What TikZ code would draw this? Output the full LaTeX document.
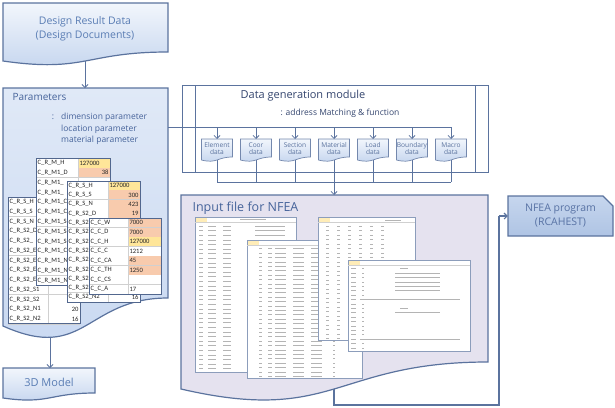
\documentclass[tikz,border=0pt]{standalone}
\usepackage{fontspec}
\setmainfont{Open Sans}
\newfontfamily\cellfont{Carlito}
\usetikzlibrary{arrows.meta}

\definecolor{lineblue}{HTML}{5B739E}
\definecolor{textblue}{HTML}{5A7DB4}
\definecolor{headblue}{HTML}{46639A}
\definecolor{darktext}{HTML}{34456E}
\definecolor{paleblue}{HTML}{F2F6FC}
\definecolor{midblue}{HTML}{C3D4EE}
\definecolor{parmtop}{HTML}{E0E9F7}
\definecolor{parmbot}{HTML}{C8D8F1}
\definecolor{lavender}{HTML}{E5E2EF}
\definecolor{progtop}{HTML}{C6D6EE}
\definecolor{progbot}{HTML}{AFC4E4}
\definecolor{cellylw}{HTML}{FFE699}
\definecolor{cellorg}{HTML}{F8CBAD}
\definecolor{gridgray}{HTML}{D0D0D0}
\definecolor{sheetgray}{HTML}{B4B4B4}

\tikzstyle{docshape}=[draw=lineblue, line width=1.2pt, top color=paleblue, bottom color=midblue]
\tikzstyle{paramshape}=[draw=lineblue, line width=1.2pt, top color=parmtop, bottom color=parmbot]
\tikzstyle{boxshape}=[draw=lineblue!85, line width=0.7pt, top color=paleblue, bottom color=midblue]
\tikzstyle{inputshape}=[draw=lineblue, line width=1.2pt, fill=lavender]
\tikzstyle{progshape}=[draw=lineblue, line width=1.2pt, top color=progtop, bottom color=progbot]
\tikzstyle{modline}=[draw=lineblue, line width=1pt]
\tikzstyle{arrow}=[draw=lineblue, line width=0.8pt, -{Straight Barb[length=3pt,width=6pt]}]
\tikzstyle{link}=[draw=lineblue, line width=0.8pt]
\tikzstyle{title}=[text=textblue, font=\fontsize{10.5}{14}\selectfont, align=center]
\tikzstyle{datalbl}=[text=lineblue, font=\fontsize{6.6}{7.6}\selectfont, align=center, inner sep=0pt]
\tikzstyle{cell}=[inner sep=0pt, font=\cellfont\fontsize{6.6}{6.6}\selectfont, text=black!85]
\tikzstyle{gridline}=[draw=gridgray, line width=0.3pt]
\tikzstyle{tableline}=[draw=lineblue!90!black, line width=0.6pt]
\tikzstyle{ink}=[draw=sheetgray, line width=0.9pt]

\newcommand{\docshape}[6]{\path[#6] (#1,#2) -- (#1+#3,#2) -- (#1+#3,#4) .. controls (#1+0.5*#3,#4) and (#1+0.5*#3,#4+2.32*#5) .. (#1,#4+#5) -- cycle;}

\newcommand{\ptable}[7]{%
  \pgfmathsetmacro{\tw}{#4-3}
  \foreach \lab/\val/\cc/\al [count=\i] in {#7}{
    \pgfmathsetmacro{\yt}{#2+(\i-1)*#5}
    \fill[white] (#1,\yt) rectangle (#1+#3,\yt+#5);
    \fill[\cc] (#1+#3,\yt) rectangle (#1+#3+#4,\yt+#5);
    \draw[gridline] (#1,\yt+#5) -- (#1+#3+#4,\yt+#5);
    \node[cell,anchor=west] at (#1+1.5,\yt+0.5*#5) {\lab};
    \node[cell,text width=\tw pt,align=\al] at (#1+#3+0.5*#4,\yt+0.5*#5) {\val};
  }
  \draw[gridline] (#1+#3,#2) -- (#1+#3,#2+#6*#5);
  \draw[tableline] (#1,#2) rectangle (#1+#3+#4,#2+#6*#5);
}

\newcommand{\sheet}[7]{%
  \filldraw[fill=white, draw=lineblue!70, line width=0.5pt] (#1,#2) rectangle (#1+#3,#2+#4);
  \fill[cellylw!70] (#1+1,#2+1) rectangle (#1+12,#2+4.5);
  \draw[gridline] (#1,#2+5) -- (#1+#3,#2+5);
  \foreach \r in {2,...,#6}{
    \foreach \cx/\cl in {#7}{
      \draw[ink] (#1+\cx,#2+\r*#5) -- ++(\cl,0);
    }
  }
}

\begin{document}
\begin{tikzpicture}[x=1pt,y=-1pt]
\useasboundingbox (0,0) rectangle (615,407);

\begin{scope}
  \docshape{3}{3}{165}{52}{9}{docshape}
  \docshape{3}{88}{165}{298}{28}{paramshape}
  \docshape{3}{368}{92}{393}{5}{docshape}
  \path[progshape] (508,196) -- (603,196) -- (613,206) -- (613,236) -- (508,236) -- cycle;
\end{scope}

\begin{scope}
  \node (design) at (85,29)[title] {Design Result Data\\(Design Documents)};
  \node (params) at (9,97)[anchor=west, text=headblue, font=\fontsize{10}{12}\selectfont] {Parameters};
  \node (colon) at (53,117)[text=headblue, font=\fontsize{8.5}{11}\selectfont] {:};
  \node (plist) at (61,129)[anchor=west, align=left, text=headblue, font=\fontsize{8.5}{11.7}\selectfont, inner sep=0pt] {dimension parameter\\ location parameter\\ material parameter};
  \node (model) at (49,382)[title, font=\fontsize{11}{13}\selectfont] {3D Model};
  \node (nfea) at (560.5,216)[title, text=headblue!90, font=\fontsize{10.5}{14}\selectfont, minimum width=105pt, minimum height=40pt] {NFEA program\\(RCAHEST)};
\end{scope}

\begin{scope}
  \ptable{8}{197}{40}{32}{9.75}{13}{%
    C\_R\_S\_H//white/right, C\_R\_S\_S//white/right, C\_R\_S\_N//white/right, C\_R\_S2\_D//white/right,
    C\_R\_S2\_//white/right, C\_R\_S2\_E//white/right, C\_R\_S2\_E//white/right, C\_R\_S2\_E//white/right,
    C\_R\_S2\_E//white/right, C\_R\_S2\_S1//white/right, C\_R\_S2\_S2//white/right,
    C\_R\_S2\_N1/20/white/right, C\_R\_S2\_N2/16/white/right}
  \ptable{36}{158}{42}{32}{9.8}{13}{%
    C\_R\_M\_H/127000/cellylw/left, C\_R\_M1\_D/38/cellorg/right, C\_R\_M1\_//white/right,
    C\_R\_M1\_//white/right, C\_R\_M1\_C//white/right, C\_R\_M1\_C//white/right,
    C\_R\_M1\_S//white/right, C\_R\_M1\_S//white/right, C\_R\_M1\_S//white/right,
    C\_R\_M1\_C//white/right, C\_R\_M1\_N//white/right, C\_R\_M1\_N//white/right,
    C\_R\_M1\_N//white/right}
  \ptable{67}{181}{41}{32}{9.3}{13}{%
    C\_R\_S\_H/127000/cellylw/left, C\_R\_S\_S/300/cellorg/right, C\_R\_S\_N/423/cellorg/right,
    C\_R\_S2\_D/19/cellorg/right, C\_R\_S2//white/right, C\_R\_S2//white/right,
    C\_R\_S2//white/right, C\_R\_S2//white/right, C\_R\_S2//white/right,
    C\_R\_S2//white/right, C\_R\_S2//white/right, C\_R\_S2//white/right,
    C\_R\_S2\_N2/16/white/right}
  \ptable{89}{218}{39}{33}{9.5}{8}{%
    C\_C\_W/7000/cellorg/left, C\_C\_D/7000/cellorg/left, C\_C\_H/127000/cellylw/left,
    C\_C\_C/1212/white/left, C\_C\_CA/45/cellorg/left, C\_C\_TH/1250/cellorg/left,
    C\_C\_CS//white/left, C\_C\_A/17/white/left}
\end{scope}

\begin{scope}
  \draw[modline] (182,85) rectangle (488,172);
  \draw[modline] (195,85) -- (195,172);
  \draw[modline] (475,85) -- (475,172);
  \node (module) at (303,96)[text=darktext, font=\fontsize{11}{13}\selectfont] {Data generation module};
  \node (subtitle) at (277,113)[anchor=west, text=darktext, font=\fontsize{8.5}{10}\selectfont] {: address Matching \& function};
\end{scope}

\begin{scope}
  \coordinate (params-e) at (168,127);
  \coordinate (bus-e) at (451,127);
  \draw[link] (params-e) -- (bus-e);
  \foreach \name/\txt [count=\k from 0] in {elem/Element, coor/Coor, sect/Section, matl/Material, load/Load, bnd/Boundary, macro/Macro}{
    \pgfmathsetmacro{\cx}{217+39*\k}
    \coordinate (\name-top) at (\cx,127);
    \coordinate (\name-n) at (\cx,139);
    \coordinate (\name-s) at (\cx,160);
    \coordinate (\name-bus) at (\cx,182);
    \draw[link] (\name-s) -- (\name-bus);
    \docshape{\cx-15.5}{139}{31}{157}{3}{boxshape}
    \node (\name) at (\cx,148.5)[datalbl] {\txt\\data};
    \draw[arrow] (\name-top) -- (\name-n);
  }
  \draw[link] (elem-bus) -- (macro-bus);
\end{scope}

\begin{scope}
  \coordinate (input-n) at (334,195);
  \coordinate (input-s) at (334,389);
  \coordinate (loop-a) at (334,405);
  \coordinate (loop-b) at (499,405);
  \coordinate (loop-c) at (499,216);
  \draw[link, line width=1.1pt] (input-s) -- (loop-a) -- (loop-b) -- (loop-c);
  \draw[arrow, line width=1.1pt] (loop-c) -- (nfea.west);
  \docshape{181}{195}{307}{362}{27}{inputshape}
  \draw[arrow] (matl-bus) -- (input-n);
  \node (input) at (189,208)[anchor=west, text=headblue, font=\fontsize{12.5}{14}\selectfont] {Input file for NFEA};
  \sheet{195}{217}{101}{155}{4.6}{33}{4/4, 13/8, 28/8}
  \draw[ink] (240,219) -- ++(26,0);
  \foreach \r in {2,...,5}{\draw[ink] (255,217+\r*4.6) -- ++(30,0);}
  \sheet{247}{240}{115}{138}{4.4}{31}{12/3, 21/4, 28/11, 46/11, 64/11, 86/2}
  \sheet{318}{217}{97}{123}{4.5}{27}{8/3, 19/3, 30/3, 41/3, 52/3, 63/3}
  \draw[ink] (385,220) -- ++(16,0);
  \sheet{348}{260}{122}{91}{4.4}{20}{3/5, 14/2}
  \foreach \r in {3,...,7, 12,...,16}{\draw[ink] (395,260+\r*4.4) -- ++(45,0);}
  \foreach \r in {2,11}{\draw[ink] (400,260+\r*4.4) -- ++(8,0);}
  \foreach \r in {9,18}{\draw[ink] (360,260+\r*4.4) -- ++(100,0);}
\end{scope}

\coordinate (design-s) at (85,61);
\coordinate (params-n) at (85,88);
\coordinate (params-s) at (50,337);
\coordinate (model-n) at (50,368);
\draw[arrow] (design-s) -- (params-n);
\draw[arrow] (params-s) -- (model-n);
\end{tikzpicture}
\end{document}
